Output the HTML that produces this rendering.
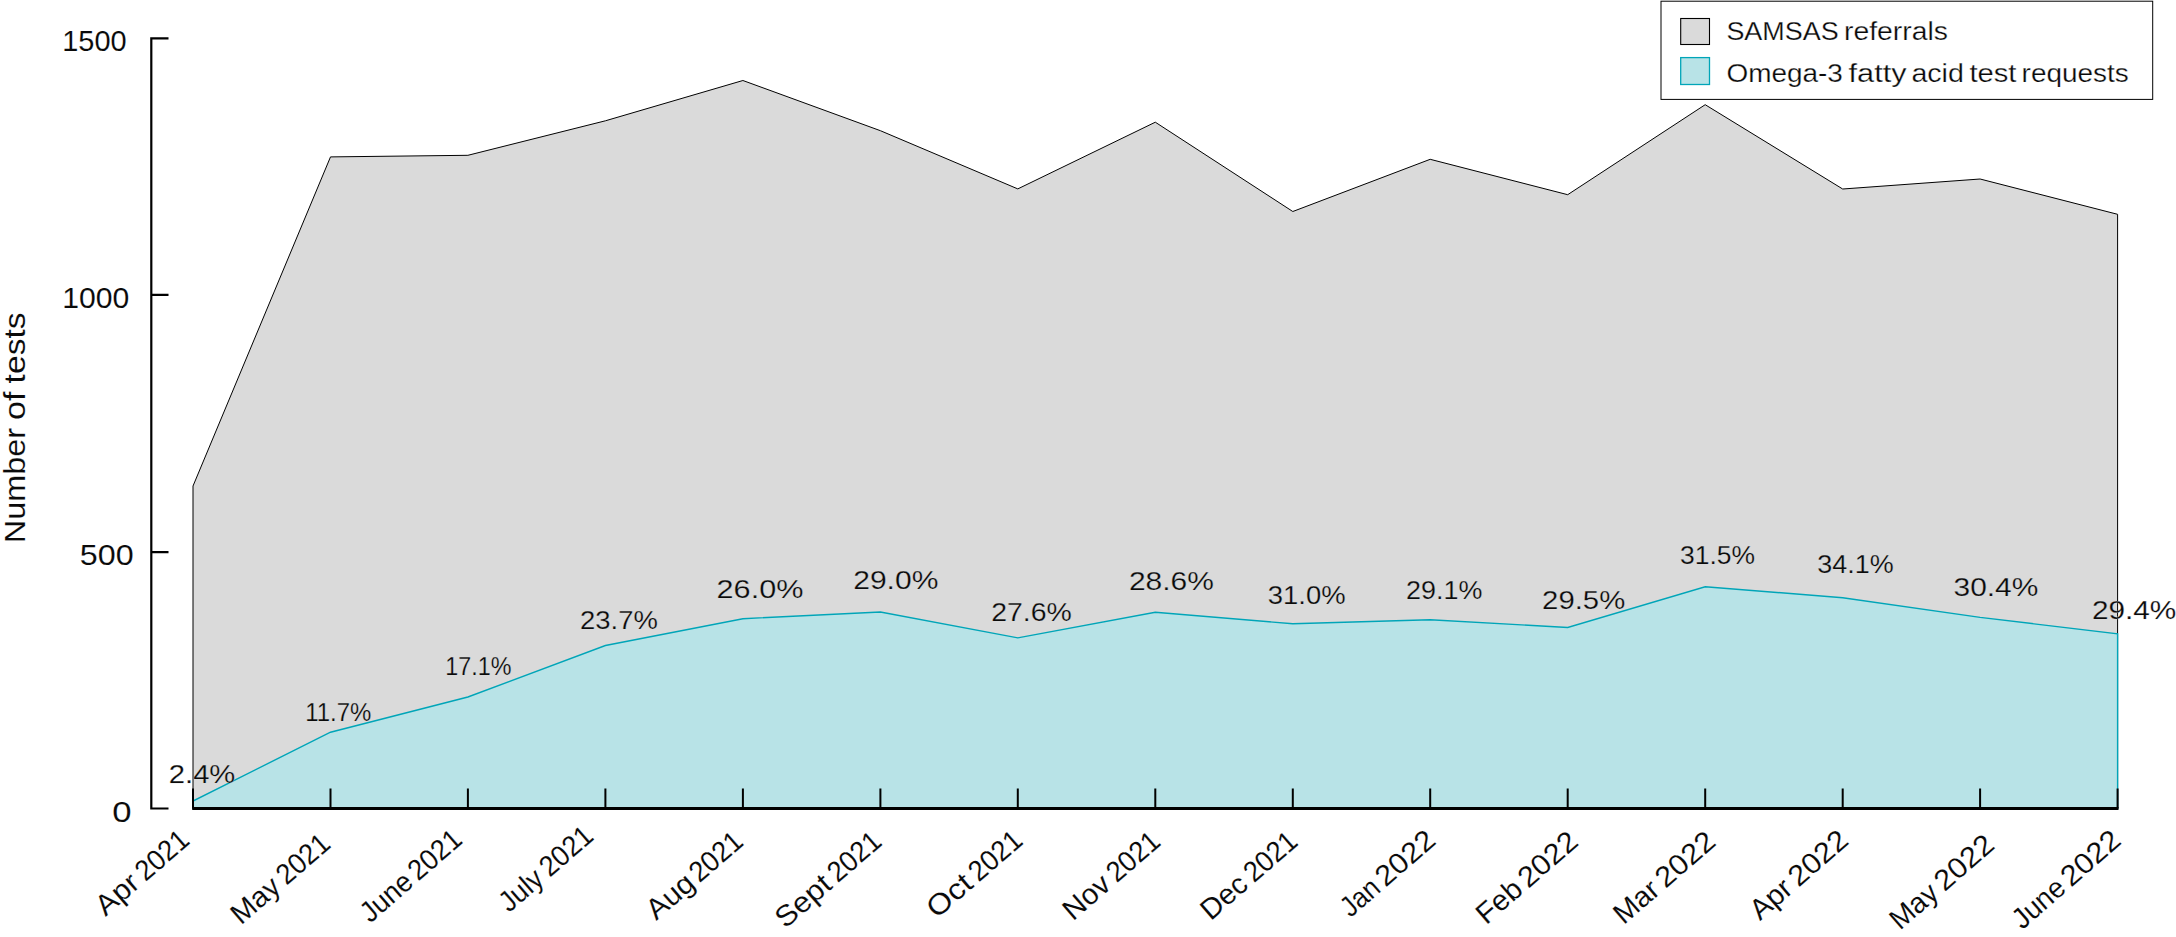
<!DOCTYPE html>
<html lang="en"><head><meta charset="utf-8"><title>Number of tests</title>
<style>html,body{margin:0;padding:0;background:#fff;overflow:hidden}svg{display:block}text{font-family:"Liberation Sans", sans-serif;fill:#0a0a0a;stroke:#fff;stroke-width:.25px;white-space:pre}.d{stroke:#dadada}.x{stroke-width:.1px}</style></head><body>
<svg width="2176" height="937" viewBox="0 0 2176 937">
<rect width="2176" height="937" fill="#fff"/>
<polygon points="193.0,808.5 193.0,486.0 330.5,156.9 467.9,155.3 605.4,120.8 742.9,80.5 880.4,130.7 1017.8,188.9 1155.3,122.2 1292.8,211.5 1430.2,159.3 1567.7,194.7 1705.2,104.7 1842.7,189.0 1980.1,179.0 2117.6,214.3 2117.6,808.5" fill="#dadada" stroke="#000" stroke-width="1" stroke-linejoin="miter"/>
<polygon points="193.0,808.5 193.0,801.0 330.5,732.2 467.9,697.0 605.4,645.5 742.9,618.7 880.4,612.0 1017.8,637.9 1155.3,612.3 1292.8,623.8 1430.2,619.8 1567.7,627.5 1705.2,586.8 1842.7,597.7 1980.1,617.4 2117.6,633.8 2117.6,808.5" fill="#b8e3e7" stroke="#00a5b8" stroke-width="1.4"/>
<path d="M168.5,38.3H151.3V808.5H168.5M151.3,294.9H168.5M151.3,552.1H168.5" stroke="#000" stroke-width="2.2" fill="none"/>
<path d="M192.2,808.5H2118.5" stroke="#000" stroke-width="2.8" fill="none"/>
<path d="M193.0,788.6V808.5M330.5,788.6V808.5M467.9,788.6V808.5M605.4,788.6V808.5M742.9,788.6V808.5M880.4,788.6V808.5M1017.8,788.6V808.5M1155.3,788.6V808.5M1292.8,788.6V808.5M1430.2,788.6V808.5M1567.7,788.6V808.5M1705.2,788.6V808.5M1842.7,788.6V808.5M1980.1,788.6V808.5M2117.6,788.6V808.5" stroke="#000" stroke-width="2" fill="none"/>
<text id="yt0" y="51.00" font-size="30" class="x"><tspan id="yt0_0" x="62.20" textLength="64.40" lengthAdjust="spacingAndGlyphs">1500</tspan></text>
<text id="yt1" y="308.00" font-size="30" class="x"><tspan id="yt1_0" x="62.30" textLength="67.10" lengthAdjust="spacingAndGlyphs">1000</tspan></text>
<text id="yt2" y="565.20" font-size="30" class="x"><tspan id="yt2_0" x="79.80" textLength="53.90" lengthAdjust="spacingAndGlyphs">500</tspan></text>
<text id="yt3" y="822.00" font-size="30" class="x"><tspan id="yt3_0" x="112.20" textLength="19.30" lengthAdjust="spacingAndGlyphs">0</tspan></text>
<text id="ytitle" y="0.00" font-size="30" class="x" transform="translate(25.4 541.5) rotate(-90)"><tspan id="ytitle_0" x="-1.80" textLength="115.40" lengthAdjust="spacingAndGlyphs">Number</tspan> <tspan id="ytitle_1" x="121.50" textLength="28.60" lengthAdjust="spacingAndGlyphs">of</tspan> <tspan id="ytitle_2" x="158.10" textLength="71.00" lengthAdjust="spacingAndGlyphs">tests</tspan></text>
<text id="d0" y="783.00" font-size="26.5" class="d"><tspan id="d0_0" x="168.80" textLength="66.50" lengthAdjust="spacingAndGlyphs">2.4%</tspan></text>
<text id="d1" y="721.30" font-size="26.5" class="d"><tspan id="d1_0" x="305.20" textLength="66.20" lengthAdjust="spacingAndGlyphs">11.7%</tspan></text>
<text id="d2" y="674.90" font-size="26.5" class="d"><tspan id="d2_0" x="445.30" textLength="66.10" lengthAdjust="spacingAndGlyphs">17.1%</tspan></text>
<text id="d3" y="628.70" font-size="26.5" class="d"><tspan id="d3_0" x="580.00" textLength="77.80" lengthAdjust="spacingAndGlyphs">23.7%</tspan></text>
<text id="d4" y="598.20" font-size="26.5" class="d"><tspan id="d4_0" x="716.60" textLength="86.80" lengthAdjust="spacingAndGlyphs">26.0%</tspan></text>
<text id="d5" y="589.40" font-size="26.5" class="d"><tspan id="d5_0" x="853.20" textLength="85.20" lengthAdjust="spacingAndGlyphs">29.0%</tspan></text>
<text id="d6" y="620.80" font-size="26.5" class="d"><tspan id="d6_0" x="991.20" textLength="80.60" lengthAdjust="spacingAndGlyphs">27.6%</tspan></text>
<text id="d7" y="590.20" font-size="26.5" class="d"><tspan id="d7_0" x="1128.90" textLength="84.90" lengthAdjust="spacingAndGlyphs">28.6%</tspan></text>
<text id="d8" y="604.10" font-size="26.5" class="d"><tspan id="d8_0" x="1267.80" textLength="77.80" lengthAdjust="spacingAndGlyphs">31.0%</tspan></text>
<text id="d9" y="599.30" font-size="26.5" class="d"><tspan id="d9_0" x="1406.10" textLength="76.30" lengthAdjust="spacingAndGlyphs">29.1%</tspan></text>
<text id="d10" y="609.40" font-size="26.5" class="d"><tspan id="d10_0" x="1542.10" textLength="83.10" lengthAdjust="spacingAndGlyphs">29.5%</tspan></text>
<text id="d11" y="564.10" font-size="26.5" class="d"><tspan id="d11_0" x="1680.00" textLength="75.00" lengthAdjust="spacingAndGlyphs">31.5%</tspan></text>
<text id="d12" y="572.90" font-size="26.5" class="d"><tspan id="d12_0" x="1817.20" textLength="76.40" lengthAdjust="spacingAndGlyphs">34.1%</tspan></text>
<text id="d13" y="595.70" font-size="26.5" class="d"><tspan id="d13_0" x="1953.50" textLength="84.80" lengthAdjust="spacingAndGlyphs">30.4%</tspan></text>
<text id="d14" y="618.80" font-size="26.5" class="d"><tspan id="d14_0" x="2092.00" textLength="84.30" lengthAdjust="spacingAndGlyphs">29.4%</tspan></text>
<text id="x0" y="0.00" font-size="29" class="x" transform="translate(189.9 843.7) rotate(-41.0)"><tspan id="x0_0" x="-111.70" textLength="47.50" lengthAdjust="spacingAndGlyphs">Apr</tspan> <tspan id="x0_1" x="-58.80" textLength="60.30" lengthAdjust="spacingAndGlyphs">2021</tspan></text>
<text id="x1" y="0.00" font-size="29" class="x" transform="translate(330.9 847.4) rotate(-41.0)"><tspan id="x1_0" x="-119.10" textLength="54.90" lengthAdjust="spacingAndGlyphs">May</tspan> <tspan id="x1_1" x="-58.80" textLength="60.30" lengthAdjust="spacingAndGlyphs">2021</tspan></text>
<text id="x2" y="0.00" font-size="29" class="x" transform="translate(462.7 843.2) rotate(-41.0)"><tspan id="x2_0" x="-122.60" textLength="59.30" lengthAdjust="spacingAndGlyphs">June</tspan> <tspan id="x2_1" x="-58.80" textLength="60.30" lengthAdjust="spacingAndGlyphs">2021</tspan></text>
<text id="x3" y="0.00" font-size="29" class="x" transform="translate(594.0 839.5) rotate(-41.0)"><tspan id="x3_0" x="-112.60" textLength="48.40" lengthAdjust="spacingAndGlyphs">July</tspan> <tspan id="x3_1" x="-58.80" textLength="60.30" lengthAdjust="spacingAndGlyphs">2021</tspan></text>
<text id="x4" y="0.00" font-size="29" class="x" transform="translate(743.8 845.0) rotate(-41.0)"><tspan id="x4_0" x="-115.90" textLength="53.50" lengthAdjust="spacingAndGlyphs">Aug</tspan> <tspan id="x4_1" x="-58.80" textLength="60.30" lengthAdjust="spacingAndGlyphs">2021</tspan></text>
<text id="x5" y="0.00" font-size="29" class="x" transform="translate(882.2 845.0) rotate(-41.0)"><tspan id="x5_0" x="-128.50" textLength="64.30" lengthAdjust="spacingAndGlyphs">Sept</tspan> <tspan id="x5_1" x="-58.80" textLength="60.30" lengthAdjust="spacingAndGlyphs">2021</tspan></text>
<text id="x6" y="0.00" font-size="29" class="x" transform="translate(1023.2 844.1) rotate(-41.0)"><tspan id="x6_0" x="-114.50" textLength="50.30" lengthAdjust="spacingAndGlyphs">Oct</tspan> <tspan id="x6_1" x="-58.80" textLength="60.30" lengthAdjust="spacingAndGlyphs">2021</tspan></text>
<text id="x7" y="0.00" font-size="29" class="x" transform="translate(1161.0 845.0) rotate(-41.0)"><tspan id="x7_0" x="-116.60" textLength="52.40" lengthAdjust="spacingAndGlyphs">Nov</tspan> <tspan id="x7_1" x="-58.80" textLength="60.30" lengthAdjust="spacingAndGlyphs">2021</tspan></text>
<text id="x8" y="0.00" font-size="29" class="x" transform="translate(1298.3 845.0) rotate(-41.0)"><tspan id="x8_0" x="-116.10" textLength="51.90" lengthAdjust="spacingAndGlyphs">Dec</tspan> <tspan id="x8_1" x="-58.80" textLength="60.30" lengthAdjust="spacingAndGlyphs">2021</tspan></text>
<text id="x9" y="0.00" font-size="29" class="x" transform="translate(1436.2 843.8) rotate(-41.0)"><tspan id="x9_0" x="-113.60" textLength="42.00" lengthAdjust="spacingAndGlyphs">Jan</tspan> <tspan id="x9_1" x="-67.10" textLength="68.60" lengthAdjust="spacingAndGlyphs">2022</tspan></text>
<text id="x10" y="0.00" font-size="29" class="x" transform="translate(1578.8 845.0) rotate(-41.0)"><tspan id="x10_0" x="-122.70" textLength="51.10" lengthAdjust="spacingAndGlyphs">Feb</tspan> <tspan id="x10_1" x="-67.10" textLength="68.60" lengthAdjust="spacingAndGlyphs">2022</tspan></text>
<text id="x11" y="0.00" font-size="29" class="x" transform="translate(1716.2 845.0) rotate(-41.0)"><tspan id="x11_0" x="-122.40" textLength="49.90" lengthAdjust="spacingAndGlyphs">Mar</tspan> <tspan id="x11_1" x="-67.10" textLength="68.60" lengthAdjust="spacingAndGlyphs">2022</tspan></text>
<text id="x12" y="0.00" font-size="29" class="x" transform="translate(1849.1 843.8) rotate(-41.0)"><tspan id="x12_0" x="-118.10" textLength="45.60" lengthAdjust="spacingAndGlyphs">Apr</tspan> <tspan id="x12_1" x="-67.10" textLength="68.60" lengthAdjust="spacingAndGlyphs">2022</tspan></text>
<text id="x13" y="0.00" font-size="29" class="x" transform="translate(1995.1 848.2) rotate(-41.0)"><tspan id="x13_0" x="-126.00" textLength="53.50" lengthAdjust="spacingAndGlyphs">May</tspan> <tspan id="x13_1" x="-67.10" textLength="68.60" lengthAdjust="spacingAndGlyphs">2022</tspan></text>
<text id="x14" y="0.00" font-size="29" class="x" transform="translate(2121.6 843.8) rotate(-41.0)"><tspan id="x14_0" x="-131.60" textLength="60.00" lengthAdjust="spacingAndGlyphs">June</tspan> <tspan id="x14_1" x="-67.10" textLength="68.60" lengthAdjust="spacingAndGlyphs">2022</tspan></text>
<rect x="1661" y="1.2" width="491.7" height="98.2" fill="#fff" stroke="#000" stroke-width="1"/>
<rect x="1680.7" y="18.5" width="28.8" height="26" fill="#dadada" stroke="#000" stroke-width="1.1"/>
<rect x="1680.7" y="57.6" width="28.8" height="26.9" fill="#b8e3e7" stroke="#00a5b8" stroke-width="1.3"/>
<text id="lg0" y="39.80" font-size="26"><tspan id="lg0_0" x="1726.40" textLength="112.20" lengthAdjust="spacingAndGlyphs">SAMSAS</tspan> <tspan id="lg0_1" x="1844.00" textLength="103.90" lengthAdjust="spacingAndGlyphs">referrals</tspan></text>
<text id="lg1" y="81.60" font-size="26"><tspan id="lg1_0" x="1726.40" textLength="116.50" lengthAdjust="spacingAndGlyphs">Omega-3</tspan> <tspan id="lg1_1" x="1848.56" textLength="58.04" lengthAdjust="spacingAndGlyphs">fatty</tspan> <tspan id="lg1_2" x="1911.40" textLength="52.50" lengthAdjust="spacingAndGlyphs">acid</tspan> <tspan id="lg1_3" x="1969.40" textLength="47.10" lengthAdjust="spacingAndGlyphs">test</tspan> <tspan id="lg1_4" x="2021.60" textLength="107.10" lengthAdjust="spacingAndGlyphs">requests</tspan></text>
</svg></body></html>
